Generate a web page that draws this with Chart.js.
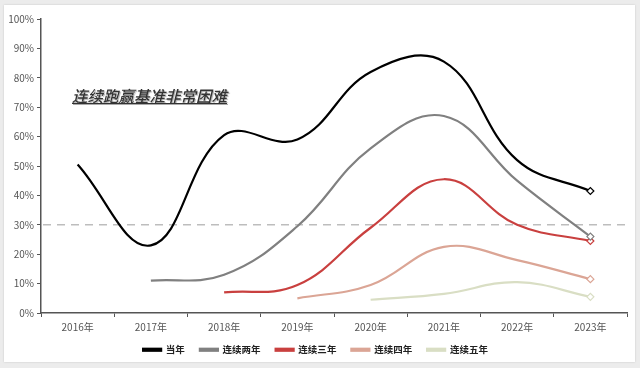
<!DOCTYPE html>
<html>
<head>
<meta charset="utf-8">
<script src="https://cdn.jsdelivr.net/npm/chart.js@4"></script>
<style>
  html, body { margin: 0; padding: 0; background: #ececec; }
  body { width: 640px; height: 368px; position: relative; overflow: hidden; }
  .card { position: absolute; left: 4px; top: 5px; width: 631px; height: 357px; background: #fff; box-shadow: 0 0 2px rgba(0,0,0,0.15); }
  .card canvas { display: block; }
  .note {
    position: absolute; left: 68px; top: 79px;
    font-family: "Noto Sans CJK SC", sans-serif; font-size: 15.5px; font-style: italic; font-weight: 500;
    color: #333; text-decoration: underline; text-shadow: 1px 1px 1px #aaa;
  }
</style>
</head>
<body>
<div class="card">
  <canvas id="chart" width="631" height="357"></canvas>
  <div class="note">连续跑赢基准非常困难</div>
</div>
<script>
// ── Data ─────────────────────────────────────────────
const years = ['2016年', '2017年', '2018年', '2019年', '2020年', '2021年', '2022年', '2023年'];
const yTicks = [0, 10, 20, 30, 40, 50, 60, 70, 80, 90, 100];
const benchmark = 30;

const thisYear  = [50.5, 23, 60.5, 59, 82, 85.5, 52, 41.5];
const twoYears  = [null, 11, 13, 29.5, 56, 67, 45, 26];
const threeYears = [null, null, 7, 9.5, 29, 45.5, 30, 24.5];
const fourYears = [null, null, null, 5, 9.5, 22.5, 18, 11.5];
const fiveYears = [null, null, null, null, 4.5, 6.5, 10.5, 5.5];

const seriesNames = ['当年', '连续两年', '连续三年', '连续四年', '连续五年'];
const seriesColors = ['#000000', '#808080', '#c9403f', '#dba595', '#d9dec4'];

// ── Benchmark dashed line ────────────────────────────
const benchmarkLine = {
    id: 'benchmarkLine',
    beforeDatasetsDraw(chart) {
        const { ctx, chartArea, scales } = chart;
        const y = scales.y.getPixelForValue(benchmark);
        ctx.save();
        ctx.strokeStyle = '#bdbdbd';
        ctx.lineWidth = 1.6;
        ctx.setLineDash([8, 6]);
        ctx.beginPath();
        ctx.moveTo(chartArea.left + 2, y);
        ctx.lineTo(chartArea.right, y);
        ctx.stroke();
        ctx.restore();
    }
};

// pull the legend a little closer to the axis labels
const legendShift = {
    id: 'legendShift',
    afterLayout(chart) {
        chart.legend.top -= 5;
        chart.legend.bottom -= 5;
    }
};

function makeSet(i, data) {
    const last = data.length - 1;
    return {
        label: seriesNames[i],
        data,
        borderColor: seriesColors[i],
        backgroundColor: seriesColors[i],
        borderWidth: 2.2,
        tension: 0.4,
        spanGaps: false,
        pointStyle: 'rectRot',
        pointRadius: data.map((_, k) => k === last ? 3.5 : 0),
        pointHoverRadius: 0,
        pointBackgroundColor: '#fff',
        pointBorderColor: seriesColors[i],
        pointBorderWidth: 1.2,
    };
}

new Chart(document.getElementById('chart'), {
    type: 'line',
    data: {
        labels: years,
        datasets: [
            makeSet(0, thisYear),
            makeSet(1, twoYears),
            makeSet(2, threeYears),
            makeSet(3, fourYears),
            makeSet(4, fiveYears),
        ]
    },
    plugins: [benchmarkLine, legendShift],
    options: {
        responsive: false,
        animation: false,
        layout: { padding: { left: 0, right: 8, top: 14, bottom: 0 } },
        plugins: {
            tooltip: { enabled: false },
            legend: {
                position: 'bottom',
                maxHeight: 27,
                labels: {
                    boxWidth: 18, boxHeight: 2, padding: 15, color: '#222',
                    font: { family: 'Noto Sans CJK SC', size: 9.5, weight: 'bold' }
                }
            }
        },
        scales: {
            x: {
                offset: true,
                border: { color: '#555', width: 1.5 },
                grid: { offset: true, drawOnChartArea: false, drawTicks: true, tickLength: 4, color: '#555' },
                ticks: { color: '#555', padding: 4, font: { family: 'Noto Sans CJK SC', size: 10 } },
                afterFit(s) { s.height = 22; }
            },
            y: {
                min: 0, max: 100,
                afterBuildTicks(s) { s.ticks = yTicks.map(v => ({ value: v })); },
                border: { color: '#555', width: 1.5 },
                grid: { drawOnChartArea: false, drawTicks: true, tickLength: 4, color: '#555' },
                ticks: { color: '#555', padding: 3, font: { family: 'Noto Sans CJK SC', size: 10 }, callback: v => v + '%' },
                afterFit(s) { s.width = 37; }
            }
        }
    }
});
</script>
</body>
</html>
